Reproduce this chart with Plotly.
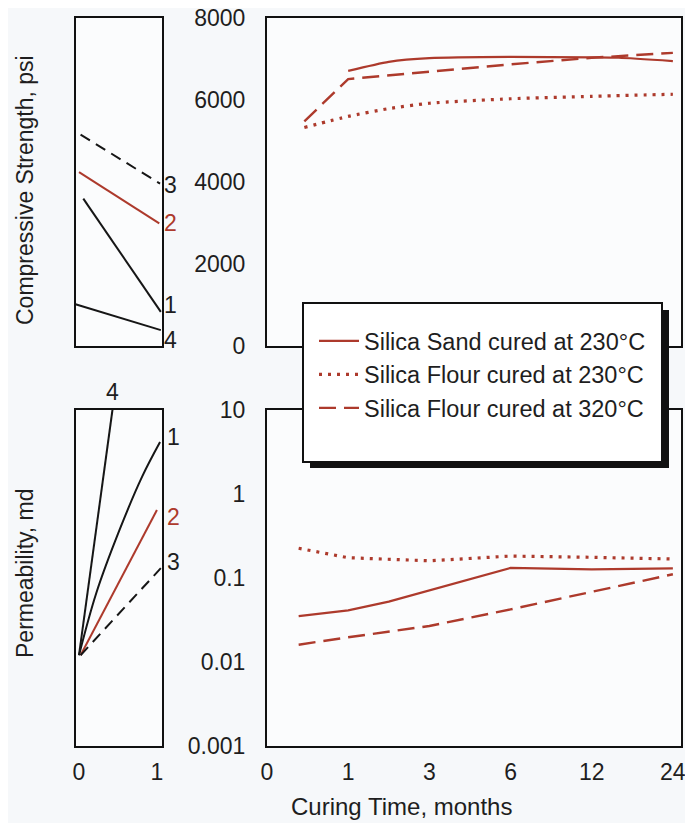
import numpy as np
import plotly.graph_objects as go

W, H = 685, 815   # figure size (page body has an 8px margin)
OFF = 8           # page body margin of the html page

# ---------------- data ----------------
month_ticks = [0, 1, 3, 6, 12, 24]
month_tick_labels = ["0", "1", "3", "6", "12", "24"]
strength_ticks = [0, 2000, 4000, 6000, 8000]
strength_tick_labels = ["0", "2000", "4000", "6000", "8000"]
perm_ticks = [0.001, 0.01, 0.1, 1, 10]
perm_tick_labels = ["0.001", "0.01", "0.1", "1", "10"]
side_ticks = [0, 1]
side_tick_labels = ["0", "1"]

series_names = ["Silica Sand cured at 230°C",
                "Silica Flour cured at 230°C",
                "Silica Flour cured at 320°C"]

# Compressive strength, psi
cs_sand230_months = [1, 2, 3, 6, 12, 16, 24]
cs_sand230 = [6710, 6930, 7020, 7050, 7040, 7030, 6950]
cs_flour230_months = [0.46, 1, 2, 3, 6, 12, 24]
cs_flour230 = [5330, 5600, 5790, 5920, 6030, 6090, 6140]
cs_flour320_months = [0.46, 1, 3, 6, 12, 24]
cs_flour320 = [5480, 6510, 6690, 6870, 7030, 7150]

# Permeability, md
pm_sand230_months = [0.39, 1, 2, 3, 4.5, 6, 12, 24]
pm_sand230 = [0.035, 0.041, 0.052, 0.071, 0.098, 0.131, 0.126, 0.129]
pm_flour230_months = [0.39, 1, 3, 6, 12, 24]
pm_flour230 = [0.224, 0.173, 0.159, 0.181, 0.175, 0.167]
pm_flour320_months = [0.39, 1, 3, 6, 12, 24]
pm_flour320 = [0.016, 0.0196, 0.0267, 0.042, 0.068, 0.110]

# Side (comparison) panels, lines 1-4
side_labels = ["1", "2", "3", "4"]
cs_side1_x = [0.055, 1.05]
cs_side1 = [3595, 832]
cs_side2_x = [0.0, 1.03]
cs_side2 = [4242, 2989]
cs_side3_x = [0.02, 1.04]
cs_side3 = [5156, 3959]
cs_side4_x = [-0.045, 1.05]
cs_side4 = [1018, 388]

pm_side1_x = [0.0, 0.22, 0.52, 0.81, 1.04]
pm_side1 = [0.012, 0.065, 0.37, 1.59, 4.1]
pm_side2_x = [0.02, 1.0]
pm_side2 = [0.012, 0.64]
pm_side3_x = [0.02, 1.05]
pm_side3 = [0.012, 0.13]
pm_side4_x = [0.0, 0.43]
pm_side4 = [0.012, 10]

# label anchor points for the side-panel line numbers
cs_label_x = [1.18, 1.18, 1.18, 1.18]
cs_label_y = [994, 3006, 3935, 145]
pm_label_x = [1.21, 1.21, 1.21, 0.43]
pm_label_y = [4.75, 0.53, 0.155, 16.3]

# ---------------- styles ----------------
RED = "#ad3a2c"
BLK = "#161616"
FONT = "Liberation Sans, Arial, sans-serif"
FS = 23
TXT = "#1e1e1e"

SIDE_XR = [-0.045, 1.065]
MAIN_XR = [0, 5.1]
CS_YR = [0, 8000]
PM_YR = [-3, 1]


def px(x):
    return (x - OFF) / W


def py(y):
    return 1 - (y - OFF) / H


def mpos(months):
    return np.interp(months, month_ticks, np.arange(len(month_ticks)))


def frac(v, r):
    return (v - r[0]) / (r[1] - r[0])


fig = go.Figure()

styles = [dict(color=RED, width=2.2, shape="spline", smoothing=0.6),
          dict(color=RED, width=3.2, dash="3px,6px", shape="spline", smoothing=0.6),
          dict(color=RED, width=2.4, dash="17px,8px")]

for i, (mx, vy) in enumerate([(cs_sand230_months, cs_sand230),
                              (cs_flour230_months, cs_flour230),
                              (cs_flour320_months, cs_flour320)]):
    fig.add_trace(go.Scatter(x=mpos(mx), y=vy, mode="lines", line=styles[i],
                             name=series_names[i], showlegend=True,
                             xaxis="x2", yaxis="y2", hoverinfo="skip"))

pm_styles = [dict(color=RED, width=2.2),
             dict(color=RED, width=3.2, dash="3px,6px"),
             dict(color=RED, width=2.4, dash="17px,8px")]

for i, (mx, vy) in enumerate([(pm_sand230_months, pm_sand230),
                              (pm_flour230_months, pm_flour230),
                              (pm_flour320_months, pm_flour320)]):
    fig.add_trace(go.Scatter(x=mpos(mx), y=vy, mode="lines", line=pm_styles[i],
                             name=series_names[i], showlegend=False,
                             xaxis="x4", yaxis="y4", hoverinfo="skip"))

side_styles = [dict(color=BLK, width=2, shape="spline"),
               dict(color=RED, width=2),
               dict(color=BLK, width=2, dash="11px,7px"),
               dict(color=BLK, width=2)]

for i, (sx, sy) in enumerate([(cs_side1_x, cs_side1), (cs_side2_x, cs_side2),
                              (cs_side3_x, cs_side3), (cs_side4_x, cs_side4)]):
    fig.add_trace(go.Scatter(x=sx, y=sy, mode="lines", line=side_styles[i],
                             showlegend=False, xaxis="x", yaxis="y",
                             hoverinfo="skip"))

for i, (sx, sy) in enumerate([(pm_side1_x, pm_side1), (pm_side2_x, pm_side2),
                              (pm_side3_x, pm_side3), (pm_side4_x, pm_side4)]):
    fig.add_trace(go.Scatter(x=sx, y=sy, mode="lines", line=side_styles[i],
                             showlegend=False, xaxis="x3", yaxis="y3",
                             hoverinfo="skip"))

annotations = []
for i, lab in enumerate(side_labels):
    col = RED if lab == "2" else TXT
    annotations.append(dict(x=frac(cs_label_x[i], SIDE_XR), y=frac(cs_label_y[i], CS_YR),
                            xref="x domain", yref="y domain",
                            text=lab, showarrow=False, xanchor="center", yanchor="middle",
                            font=dict(size=FS, color=col, family=FONT)))
    annotations.append(dict(x=frac(pm_label_x[i], SIDE_XR),
                            y=frac(np.log10(pm_label_y[i]), PM_YR),
                            xref="x3 domain", yref="y3 domain", text=lab, showarrow=False,
                            xanchor="center", yanchor="middle",
                            font=dict(size=FS, color=col, family=FONT)))

annotations += [
    dict(x=px(25), y=py(190), xref="paper", yref="paper",
         text="Compressive Strength, psi", textangle=-90, showarrow=False,
         xanchor="center", yanchor="middle",
         font=dict(size=FS, color=TXT, family=FONT)),
    dict(x=px(25), y=py(573), xref="paper", yref="paper",
         text="Permeability, md", textangle=-90, showarrow=False,
         xanchor="center", yanchor="middle",
         font=dict(size=FS, color=TXT, family=FONT)),
    dict(x=px(401), y=py(806), xref="paper", yref="paper",
         text="Curing Time, months", showarrow=False,
         xanchor="center", yanchor="middle",
         font=dict(size=FS + 1, color=TXT, family=FONT)),
]

# legend box with drop shadow
bx0, bx1, by0, by1 = 303, 662, 303, 462
shapes = [
    dict(type="rect", xref="paper", yref="paper", layer="above",
         x0=px(bx0 + 7), x1=px(bx1 + 7), y0=py(by1 + 6), y1=py(by0 + 7),
         fillcolor="#111", line=dict(width=0)),
    dict(type="rect", xref="paper", yref="paper", layer="above",
         x0=px(bx0), x1=px(bx1), y0=py(by1), y1=py(by0),
         fillcolor="white", line=dict(color="#111", width=2)),
]

left_dom = [px(75.5), px(162)]
right_dom = [px(267), px(681)]
top_dom = [py(346), py(18)]
bot_dom = [py(746), py(409.5)]

frame = dict(showline=True, mirror=True, linecolor="#111", linewidth=2,
             showgrid=False, zeroline=False, ticks="", automargin=False,
             ticklabeloverflow="allow",
             tickfont=dict(size=FS, color=TXT, family=FONT))

fig.update_layout(
    width=W, height=H, autosize=False,
    margin=dict(l=0, r=0, t=0, b=0, pad=0, autoexpand=False),
    paper_bgcolor="#f6f8fa", plot_bgcolor="#fbfcfd",
    font=dict(family=FONT, size=FS, color=TXT),
    showlegend=True,
    legend=dict(x=px(314), y=py(319), xanchor="left", yanchor="top",
                bgcolor="rgba(0,0,0,0)", borderwidth=0, itemwidth=40,
                font=dict(size=FS + 0.5, color=TXT, family=FONT)),
    xaxis=dict(domain=left_dom, range=SIDE_XR, showticklabels=False,
               anchor="y", **frame),
    yaxis=dict(domain=top_dom, range=CS_YR, showticklabels=False,
               anchor="x", **frame),
    xaxis2=dict(domain=right_dom, range=MAIN_XR, showticklabels=False,
                anchor="y2", **frame),
    yaxis2=dict(domain=top_dom, range=CS_YR, tickvals=strength_ticks,
                ticktext=strength_tick_labels, ticklabelstandoff=15,
                anchor="x2", **frame),
    xaxis3=dict(domain=left_dom, range=SIDE_XR, tickvals=side_ticks,
                ticktext=side_tick_labels, ticklabelstandoff=4,
                anchor="y3", **frame),
    yaxis3=dict(domain=bot_dom, type="log", range=PM_YR, showticklabels=False,
                anchor="x3", **frame),
    xaxis4=dict(domain=right_dom, range=MAIN_XR,
                tickvals=list(range(len(month_ticks))),
                ticktext=month_tick_labels, ticklabelstandoff=4,
                anchor="y4", **frame),
    yaxis4=dict(domain=bot_dom, type="log", range=PM_YR, tickvals=perm_ticks,
                ticktext=perm_tick_labels, ticklabelstandoff=15,
                anchor="x4", **frame),
    annotations=annotations,
    shapes=shapes,
)

fig.write_html("out.html")
